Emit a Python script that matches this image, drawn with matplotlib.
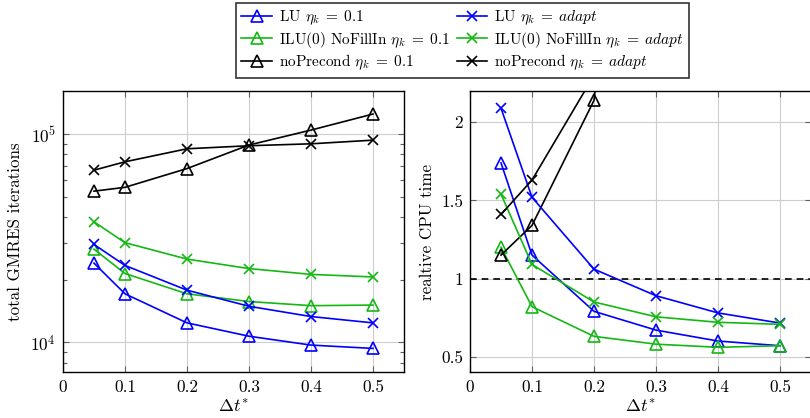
import matplotlib
matplotlib.use("Agg")
import matplotlib.pyplot as plt
from matplotlib.ticker import LogLocator, LogFormatterMathtext, NullFormatter

plt.rcParams.update({
    "font.family": "serif",
    "font.serif": ["cmr10"],
    "mathtext.fontset": "cm",
    "axes.unicode_minus": False,
    "axes.formatter.use_mathtext": True,
    "font.size": 12,
})

# time step sizes
dt = [0.05, 0.1, 0.2, 0.3, 0.4, 0.5]

# total GMRES iterations
iters_lu_fix = [24000, 17100, 12400, 10700, 9700, 9350]
iters_lu_ad = [29500, 23400, 17800, 14900, 13300, 12400]
iters_ilu_fix = [28000, 21400, 17100, 15700, 15000, 15100]
iters_ilu_ad = [37900, 30100, 25100, 22600, 21200, 20600]
iters_np_fix = [53200, 55500, 68300, 88600, 104500, 124800]
iters_np_ad = [67100, 73600, 85000, 87900, 89800, 93500]

# relative CPU time
cpu_lu_fix = [1.74, 1.15, 0.79, 0.67, 0.60, 0.57]
cpu_lu_ad = [2.09, 1.52, 1.06, 0.89, 0.78, 0.715]
cpu_ilu_fix = [1.20, 0.82, 0.63, 0.58, 0.56, 0.57]
cpu_ilu_ad = [1.54, 1.09, 0.85, 0.755, 0.72, 0.707]
cpu_np_fix = [1.15, 1.34, 2.14, 5.8, 7.0, 8.0]
cpu_np_ad = [1.41, 1.63, 2.30, 4.0, 5.0, 6.0]

xticks = [0, 0.1, 0.2, 0.3, 0.4, 0.5]
xticklabels = ["0", "0.1", "0.2", "0.3", "0.4", "0.5"]
cpu_ticks = [0.5, 1, 1.5, 2]
cpu_ticklabels = ["0.5", "1", "1.5", "2"]

BLUE = "#0000ff"
GREEN = "#14b814"
BLACK = "#000000"

fig = plt.figure(figsize=(8.10, 4.18), dpi=100)
W, H = 810, 418
axw = 341 / W
axh = (372.3 - 91) / H
axb = (H - 372.3) / H
ax1 = fig.add_axes([63 / W, axb, axw, axh])
ax2 = fig.add_axes([470 / W, axb, axw, axh])

tri = dict(marker="^", markersize=8, markerfacecolor="none", markeredgewidth=1.2)
crs = dict(marker="x", markersize=7, markeredgewidth=1.2)
lw = 1.2

series = [
    ("LU", BLUE, tri, r"\eta_k \;=\; 0.1", iters_lu_fix, cpu_lu_fix),
    ("ILU(0) NoFillIn", GREEN, tri, r"\eta_k \;=\; 0.1", iters_ilu_fix, cpu_ilu_fix),
    ("noPrecond", BLACK, tri, r"\eta_k \;=\; 0.1", iters_np_fix, cpu_np_fix),
    ("LU", BLUE, crs, r"\eta_k \;=\; adapt", iters_lu_ad, cpu_lu_ad),
    ("ILU(0) NoFillIn", GREEN, crs, r"\eta_k \;=\; adapt", iters_ilu_ad, cpu_ilu_ad),
    ("noPrecond", BLACK, crs, r"\eta_k \;=\; adapt", iters_np_ad, cpu_np_ad),
]

handles = []
labels = []
for name, col, mk, eta, it, cpu in series:
    h, = ax1.plot(dt, it, color=col, lw=lw, markeredgecolor=col, **mk, zorder=3)
    ax2.plot(dt, cpu, color=col, lw=lw, markeredgecolor=col, **mk, zorder=3)
    handles.append(h)
    labels.append(name + " $" + eta + "$")

ax2.axhline(1.0, color="black", lw=1.2, ls=(0, (4, 3)), zorder=2)

# left: log scale iterations
ax1.set_yscale("log")
ax1.set_ylim(7180, 161000)
ax1.yaxis.set_major_locator(LogLocator(base=10, numticks=10))
ax1.yaxis.set_major_formatter(LogFormatterMathtext())
ax1.yaxis.set_minor_locator(LogLocator(base=10, subs=range(2, 10), numticks=20))
ax1.yaxis.set_minor_formatter(NullFormatter())

ax2.set_ylim(0.4, 2.2)
ax2.set_yticks(cpu_ticks)
ax2.set_yticklabels(cpu_ticklabels)

for ax in (ax1, ax2):
    ax.set_xlim(0, 0.55)
    ax.set_xticks(xticks)
    ax.set_xticklabels(xticklabels)
    ax.grid(True, which="major", color="#cdcdcd", lw=0.8, zorder=0)
    ax.set_axisbelow(True)
    ax.tick_params(which="both", direction="in", top=True, right=True,
                   color="#606060", width=0.8, labelsize=12.4, pad=5)
    ax.tick_params(which="major", length=4.5)
    ax.tick_params(which="minor", length=3)
    for sp in ax.spines.values():
        sp.set_linewidth(1.0)
        sp.set_color("black")
    ax.set_xlabel(r"$\Delta t^{*}$", fontsize=13)
    ax.xaxis.set_label_coords(0.5, -0.094)

ax1.set_ylabel("total GMRES iterations", fontsize=12.2)
ax1.yaxis.set_label_coords(-0.117, 0.5)
ax2.set_ylabel("realtive CPU time", fontsize=12.2)
ax2.yaxis.set_label_coords(-0.103, 0.5)

leg = fig.legend(handles, labels, ncol=2, loc="upper center",
                 bbox_to_anchor=(462.5 / W, 1 - 3 / H), borderaxespad=0,
                 fontsize=11, handlelength=2.0, handletextpad=0.45,
                 columnspacing=0.45, labelspacing=0.2, borderpad=0.35,
                 fancybox=False, framealpha=1, numpoints=1)
leg.get_frame().set_edgecolor("#333333")
leg.get_frame().set_linewidth(1.2)

fig.savefig("out.png", dpi=100)
